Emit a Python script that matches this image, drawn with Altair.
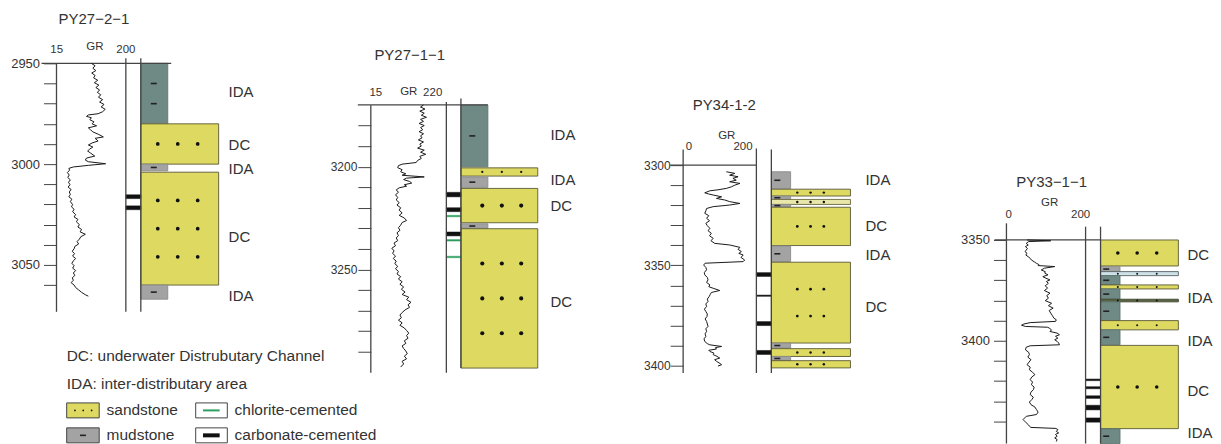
import altair as alt
import pandas as pd

FONT = "Liberation Sans"
TXT = "#333333"
LINE = "#444444"

# ------------------------------------------------------------------ data
well_name = ["PY27−2−1", "PY27−1−1", "PY34-1-2", "PY33−1−1"]
gr_min = [15, 15, 0, 0]
gr_max = [200, 220, 200, 200]
top_depth = [2950, 3170, 3300, 3350]

depth_ticks = [
    [2950, 2960, 2970, 2980, 2990, 3000, 3010, 3020, 3030, 3040, 3050, 3060],
    [3180, 3190, 3200, 3210, 3220, 3230, 3240, 3250, 3260, 3270, 3280, 3290],
    [3300, 3310, 3320, 3330, 3340, 3350, 3360, 3370, 3380, 3390, 3400],
    [3350, 3360, 3370, 3380, 3390, 3400, 3410, 3420, 3430, 3440],
]

# lithology intervals (m)
lith_top = [
    [2950, 2980, 3000, 3004, 3060],
    [3170, 3200.6, 3205, 3210.6, 3227.8, 3230.2],
    [3303.3, 3312, 3315.4, 3317.1, 3319.6, 3321, 3340.3, 3348.4, 3388.7, 3391.5, 3395.4, 3397.5],
    [3350, 3363.2, 3365.7, 3367.7, 3372.3, 3374.3, 3379.4, 3380.7, 3390, 3394.6, 3402.3, 3443.7],
]
lith_base = [
    [2980, 3000, 3003.3, 3060, 3067],
    [3200.1, 3204.6, 3210.1, 3227.3, 3230, 3298],
    [3311.8, 3315.4, 3317.1, 3319.6, 3320.7, 3340.1, 3348.1, 3388.7, 3391.2, 3395.4, 3397.4, 3401.1],
    [3362.9, 3365.7, 3367.7, 3372.3, 3374.3, 3379.4, 3380.7, 3390, 3394.6, 3402, 3443.6, 3451],
]
lith_type = [
    ["mud_dark", "sand", "mud", "sand", "mud"],
    ["mud_dark", "sand", "mud", "sand", "mud", "sand"],
    ["mud", "sand", "mud", "sand_pale", "mud", "sand", "mud", "sand", "mud", "sand", "mud", "sand"],
    ["sand", "mud", "sand_blue", "mud_dark", "sand", "mud_dark", "sand_olive", "mud_dark",
     "sand", "mud_dark", "sand", "mud_dark"],
]
# symbol rows drawn in each interval (dot rows in sandstone, dashes in mudstone)
lith_rows = [
    [2, 1, 1, 3, 1],
    [1, 1, 1, 1, 1, 3],
    [1, 1, 1, 1, 1, 1, 1, 2, 1, 1, 1, 1],
    [1, 1, 1, 1, 1, 1, 1, 1, 1, 1, 1, 1],
]

# cemented layers (m)
cem_top = [
    [3015.2, 3020.7],
    [3212.5, 3220.0, 3223.7, 3231.8, 3235.5, 3243.6],
    [3353.6, 3364.8, 3378.0, 3392.4],
    [3419.0, 3422.8, 3427.3, 3432.0, 3438.3],
]
cem_base = [
    [3017.1, 3022.6],
    [3214.7, 3221.9, 3224.4, 3233.7, 3236.2, 3244.3],
    [3355.5, 3365.4, 3380.0, 3394.4],
    [3419.8, 3423.8, 3428.6, 3434.3, 3440.4],
]
cem_type = [
    ["carbonate", "carbonate"],
    ["carbonate", "carbonate", "chlorite", "carbonate", "chlorite", "chlorite"],
    ["carbonate", "carbonate", "carbonate", "carbonate"],
    ["carbonate", "carbonate", "carbonate", "carbonate", "carbonate"],
]

# sedimentary facies labels
facies_label = [
    ["IDA", "DC", "IDA", "DC", "IDA"],
    ["IDA", "IDA", "DC", "DC"],
    ["IDA", "DC", "IDA", "DC"],
    ["DC", "IDA", "IDA", "DC", "IDA"],
]
facies_depth = [
    [2964.4, 2990.6, 3002.5, 3036.1, 3065.3],
    [3184.7, 3206.6, 3219.2, 3265.8],
    [3307.5, 3330.3, 3344.8, 3370.5],
    [3357.4, 3378.9, 3400.3, 3425.1, 3445.8],
]

# GR logs (depth m, GR API)
gr_log_1 = [
    (2950.0, 108), (2951.2, 118), (2952.4, 112), (2953.6, 120), (2954.8, 109), (2956.0, 118),
    (2957.2, 114), (2958.4, 125), (2959.6, 116), (2960.8, 128), (2962.0, 120), (2963.2, 130),
    (2964.4, 124), (2965.6, 133), (2966.8, 127), (2968.0, 138), (2969.2, 130), (2970.4, 142),
    (2971.6, 134), (2972.8, 145), (2974.0, 138), (2975.0, 126), (2975.6, 100), (2976.3, 95),
    (2977.0, 108), (2978.0, 104), (2979.0, 115), (2980.0, 110), (2981.0, 122), (2982.0, 100),
    (2983.0, 106), (2984.0, 112), (2985.3, 128), (2986.5, 140), (2987.2, 118), (2988.5, 126),
    (2989.5, 110), (2990.5, 100), (2991.5, 112), (2992.5, 104), (2993.5, 98), (2994.5, 106),
    (2996.0, 117), (2997.0, 95), (2998.0, 92), (2998.8, 100), (2999.8, 146), (3000.6, 100),
    (3001.4, 60), (3002.1, 48), (3003.0, 50), (3004.2, 44), (3005.4, 49), (3006.6, 45),
    (3007.8, 52), (3009.0, 47), (3010.2, 51), (3011.4, 46), (3012.6, 54), (3013.8, 49),
    (3015.0, 52), (3016.2, 48), (3017.4, 56), (3018.6, 52), (3020.0, 58), (3021.2, 55),
    (3022.4, 62), (3023.6, 58), (3025.0, 66), (3026.2, 62), (3027.4, 72), (3028.6, 68),
    (3030.0, 76), (3031.2, 72), (3032.4, 82), (3033.6, 78), (3034.8, 92), (3036.0, 80),
    (3037.2, 76), (3038.4, 70), (3039.6, 74), (3040.8, 64), (3042.0, 62), (3043.2, 57),
    (3044.4, 63), (3045.6, 58), (3046.8, 66), (3048.0, 60), (3049.2, 56), (3050.4, 62),
    (3051.6, 58), (3052.8, 66), (3054.0, 60), (3055.2, 64), (3056.4, 57), (3057.6, 60),
    (3058.8, 54), (3060.0, 62), (3061.2, 66), (3062.4, 74), (3063.6, 82), (3064.8, 92),
    (3065.5, 100),
]
gr_log_2 = [
    (3170.0, 158), (3171.0, 150), (3172.0, 162), (3173.0, 148), (3174.0, 160), (3175.0, 152),
    (3176.0, 166), (3177.0, 150), (3178.0, 158), (3179.0, 146), (3180.0, 160), (3181.0, 150),
    (3182.0, 156), (3183.0, 146), (3184.0, 158), (3185.0, 150), (3186.0, 154), (3187.0, 144),
    (3188.0, 158), (3189.0, 148), (3190.0, 152), (3191.0, 142), (3192.0, 160), (3193.0, 150),
    (3194.0, 164), (3195.0, 148), (3196.0, 152), (3197.0, 142), (3198.0, 138), (3198.8, 100),
    (3199.5, 90), (3200.5, 88), (3201.5, 100), (3202.5, 96), (3203.5, 110), (3204.2, 100),
    (3205.0, 160), (3205.6, 112), (3206.3, 104), (3207.2, 120), (3208.0, 126), (3208.8, 106),
    (3209.5, 112), (3210.3, 92), (3211.3, 84), (3212.5, 90), (3213.7, 82), (3215.0, 88),
    (3216.2, 84), (3217.5, 92), (3218.7, 86), (3220.0, 96), (3221.2, 92), (3222.5, 100),
    (3223.7, 92), (3225.0, 106), (3226.2, 112), (3227.2, 100), (3228.5, 96), (3229.7, 90),
    (3231.0, 94), (3232.2, 86), (3233.5, 90), (3234.7, 84), (3236.0, 88), (3237.2, 78),
    (3238.5, 82), (3239.7, 72), (3241.0, 78), (3242.2, 74), (3243.5, 82), (3244.7, 76),
    (3246.0, 84), (3247.2, 80), (3248.5, 88), (3249.7, 82), (3251.0, 90), (3252.2, 86),
    (3253.5, 96), (3254.7, 90), (3256.0, 100), (3257.2, 94), (3258.5, 104), (3259.7, 98),
    (3261.0, 108), (3262.2, 100), (3263.5, 118), (3264.7, 112), (3266.0, 124), (3267.2, 116),
    (3268.5, 120), (3269.7, 108), (3271.0, 100), (3272.2, 94), (3273.5, 98), (3274.7, 90),
    (3276.0, 100), (3277.2, 94), (3278.5, 106), (3279.7, 112), (3281.0, 118), (3282.2, 112),
    (3283.5, 116), (3284.7, 106), (3286.0, 110), (3287.2, 100), (3288.5, 104), (3289.7, 110),
    (3291.0, 114), (3292.2, 106), (3293.5, 112), (3294.7, 100), (3296.0, 104), (3297.5, 96),
]
gr_log_3 = [
    (3303.3, 118), (3304.1, 141), (3305.0, 127), (3305.8, 150), (3306.6, 136), (3307.5, 145),
    (3308.3, 127), (3309.1, 155), (3310.0, 141), (3310.8, 132), (3311.6, 118), (3312.3, 95),
    (3312.8, 73), (3313.8, 59), (3314.4, 70), (3314.9, 82), (3315.8, 105), (3316.6, 91),
    (3317.4, 114), (3318.2, 127), (3319.1, 155), (3319.9, 127), (3320.7, 82), (3321.6, 64),
    (3322.8, 62), (3324.0, 59), (3325.2, 70), (3326.5, 64), (3327.7, 72), (3329.0, 62),
    (3330.2, 66), (3331.5, 73), (3332.7, 68), (3334.0, 77), (3335.2, 72), (3336.5, 82),
    (3337.7, 76), (3339.0, 86), (3339.8, 127), (3341.0, 155), (3342.0, 150), (3343.1, 159),
    (3344.0, 152), (3344.8, 164), (3346.0, 158), (3347.3, 168), (3348.1, 164), (3348.9, 60),
    (3349.8, 56), (3351.0, 62), (3352.2, 64), (3353.5, 58), (3354.7, 59), (3356.0, 66),
    (3357.2, 68), (3358.5, 64), (3359.7, 73), (3360.6, 70), (3361.4, 82), (3362.5, 100),
    (3363.5, 77), (3364.5, 74), (3365.5, 71), (3366.8, 66), (3368.0, 68), (3369.2, 62),
    (3370.5, 64), (3371.8, 58), (3373.0, 62), (3374.2, 66), (3375.5, 65), (3376.7, 60),
    (3377.9, 64), (3379.2, 66), (3380.4, 68), (3381.6, 62), (3382.9, 64), (3384.1, 60),
    (3385.4, 62), (3386.6, 57), (3387.9, 59), (3389.0, 66), (3389.6, 73), (3390.4, 105),
    (3391.0, 88), (3391.7, 91), (3392.3, 70), (3392.9, 73), (3393.7, 84), (3394.5, 82),
    (3395.3, 92), (3396.2, 100), (3397.0, 86), (3397.8, 91), (3398.6, 98), (3399.5, 105),
    (3400.2, 95),
]
gr_log_4 = [
    (3350.0, 52), (3350.4, 112), (3350.8, 56), (3351.7, 50), (3352.5, 55), (3353.3, 48),
    (3354.2, 53), (3355.0, 50), (3355.8, 47), (3356.6, 52), (3357.5, 49), (3358.3, 55),
    (3359.1, 60), (3359.9, 63), (3360.8, 70), (3361.6, 76), (3362.2, 82), (3362.7, 80),
    (3363.2, 122), (3364.0, 96), (3364.9, 88), (3365.7, 98), (3366.5, 97), (3367.3, 105),
    (3368.2, 92), (3369.0, 100), (3369.8, 110), (3370.6, 101), (3371.5, 106), (3372.7, 98),
    (3373.9, 104), (3375.1, 96), (3376.4, 110), (3377.6, 102), (3378.9, 106), (3380.1, 98),
    (3381.4, 114), (3382.6, 106), (3383.8, 118), (3385.0, 108), (3386.3, 112), (3387.5, 116),
    (3388.8, 120), (3389.6, 126), (3390.4, 124), (3391.0, 60), (3391.7, 44), (3392.3, 38),
    (3392.9, 48), (3393.3, 104), (3393.7, 108), (3394.6, 114), (3395.4, 110), (3396.2, 128),
    (3397.0, 134), (3397.8, 124), (3398.7, 130), (3399.5, 122), (3400.3, 128), (3401.1, 132),
    (3402.0, 134), (3402.5, 60), (3403.2, 50), (3404.5, 48), (3405.7, 56), (3406.9, 58),
    (3408.1, 54), (3409.4, 62), (3410.6, 57), (3411.9, 52), (3413.1, 60), (3414.4, 58),
    (3415.6, 66), (3416.8, 72), (3418.0, 64), (3419.3, 60), (3420.5, 66), (3421.8, 63),
    (3423.0, 70), (3424.3, 68), (3425.5, 62), (3426.7, 60), (3428.0, 68), (3429.2, 64),
    (3430.4, 58), (3431.7, 62), (3432.9, 72), (3434.2, 76), (3435.4, 80), (3436.6, 76),
    (3437.5, 50), (3438.3, 46), (3439.1, 42), (3439.9, 46), (3440.7, 50), (3441.6, 55),
    (3442.4, 58), (3443.0, 62), (3443.5, 125), (3444.1, 130), (3445.0, 126), (3445.7, 132),
    (3446.5, 124), (3447.4, 128), (3448.2, 122), (3449.0, 128), (3450.0, 126),
]
gr_logs = [gr_log_1, gr_log_2, gr_log_3, gr_log_4]

legend_lines = ["DC: underwater Distrubutary Channel", "IDA: inter-distributary area"]
legend_items = ["sandstone", "mudstone", "chlorite-cemented", "carbonate-cemented"]

# ------------------------------------------------------------------ style / layout
FILL = {"sand": "#ddd961", "sand_pale": "#e8e6a8", "sand_blue": "#cfe2e7", "sand_olive": "#596340",
        "mud": "#a3a3a3", "mud_dark": "#6f8985"}
STROKE = {"sand": "#5a5836", "sand_pale": "#6a6840", "sand_blue": "#56605f", "sand_olive": "#3f4630",
          "mud": "#8c8c8c", "mud_dark": "#5d7571"}
CEM = {"carbonate": "#111111", "chlorite": "#2e9e5e"}

PLOT_TOP = 8      # page y of the plot tops
H = 436           # plot height of every panel
FS_LABEL = 15
FS_LEGEND = 15.5
FS_TITLE = 15
FS_GR = 11.5

LAYOUT = [
    dict(width=314.5, k=2.02, ref_depth=2950, ref_y=63, gr_w=69.5, litho_x=84.5, mud_x=111.5,
         sand_x=162.5, label_x=172.5, dot_x=[17, 37, 57], dash_x=13, dot_big=14, dot_small=4,
         title=(37.5, 19), gr_lab=[(0.2, 50), (38.5, 46.7), (69.5, 50)], top_line=(-15, 115),
         vlines=[(0, 63, 312), (69.5, 58, 312), (84.5, 58, 312)], lab_size=13, lab_pad=4),
    dict(width=312.3, k=2.06, ref_depth=3200, ref_y=166.5, gr_w=75.7, litho_x=90.3, mud_x=117.3,
         sand_x=167.3, label_x=180, dot_x=[21.4, 41, 60.4], dash_x=11.4, dot_big=17, dot_small=5,
         title=(39, 55), gr_lab=[(5, 93), (38, 91.7), (62, 93)], top_line=(-13, 117.3),
         vlines=[(0, 105, 373), (75.7, 101.7, 373), (90.3, 98.3, 368.3)], lab_size=12, lab_pad=1),
    dict(width=323.4, k=2.01, ref_depth=3300, ref_y=165, gr_w=73.4, litho_x=88.4, mud_x=107.7,
         sand_x=167.7, label_x=182.7, dot_x=[26, 39.3, 52.6], dash_x=6, dot_big=8, dot_small=6,
         title=(41.2, 105), gr_lab=[(5.7, 146.7), (43.7, 136), (60, 146.7)], top_line=(-13, 73.4),
         vlines=[(0, 149.3, 373.3), (73.4, 148.3, 373.3), (88.4, 149.3, 373.3)], lab_size=12, lab_pad=0),
    dict(width=206.3, k=2.02, ref_depth=3350, ref_y=240, gr_w=79.3, litho_x=94.3, mud_x=113.8,
         sand_x=172.3, label_x=181.5, dot_x=[17.3, 36.7, 56.3], dash_x=5.7, dot_big=13, dot_small=4,
         title=(45.3, 182), gr_lab=[(2.3, 215), (43.3, 203.3), (74.3, 215)], top_line=(-12, 94.3),
         vlines=[(0, 223.3, 444), (79.3, 226.7, 444), (94.3, 226.7, 444)], lab_size=13, lab_pad=4),
]
# legend placement (page px, drawn in first panel)
LEG_X0 = 56.5
LEG_TEXT = [(66.7, 356.7), (66.7, 384)]
LEG_ITEM_TEXT = [(106.7, 410.7), (106.7, 435), (235, 410.7), (235, 435)]
LEG_BOX = [(66.7, 99.3, 403.3, 418.3), (66.7, 99.3, 428.3, 443.3),
           (196, 227.7, 403.3, 418.3), (196, 227.7, 428.3, 443.3)]


def build_panel(i):
    L = LAYOUT[i]
    k = L["k"]

    def dep(y):
        return L["ref_depth"] + (y - L["ref_y"]) / k

    d0, d1 = dep(PLOT_TOP), dep(PLOT_TOP + H)
    ysc = alt.Scale(domain=[d0, d1], reverse=True, zero=False, nice=False)
    yax = alt.Axis(values=depth_ticks[i], format="d",
                   labelExpr="datum.value % 50 === 0 ? datum.label : ''",
                   tickSize=13, tickColor=LINE, tickWidth=1, domain=False, grid=False,
                   title=None, labelFont=FONT, labelFontSize=L["lab_size"], labelColor=TXT,
                   labelPadding=L["lab_pad"], labelOverlap=False, labelBound=False)
    xsc = alt.Scale(domain=[0, L["width"]], zero=False, nice=False)

    def X(f):
        return alt.X(f"{f}:Q", scale=xsc, axis=None)

    def Y(f):
        return alt.Y(f"{f}:Q", scale=ysc, axis=yax)

    rects, segs, dots, ltxt, ctxt = [], [], [], [], []

    for t, b, ty, n in zip(lith_top[i], lith_base[i], lith_type[i], lith_rows[i]):
        sand = ty.startswith("sand")
        rects.append(dict(x0=L["litho_x"], x1=L["sand_x"] if sand else L["mud_x"],
                          top=t, base=b, fill=FILL[ty], stroke=STROKE[ty], w=0.9))
        for j in range(n):
            yy = t + (j + 1) * (b - t) / (n + 1)
            if sand:
                s = L["dot_small"] if b - t < 6 else L["dot_big"]
                for dx in L["dot_x"]:
                    dots.append(dict(x=L["litho_x"] + dx, y=yy, s=s))
            else:
                cx = L["litho_x"] + L["dash_x"]
                segs.append(dict(xa=cx - 3, xb=cx + 3, ya=yy, yb=yy, w=1.6, c="#222222"))

    for t, b, ty in zip(cem_top[i], cem_base[i], cem_type[i]):
        rects.append(dict(x0=L["gr_w"], x1=L["litho_x"], top=t, base=b,
                          fill=CEM[ty], stroke=CEM[ty], w=0.5))

    for x, ya, yb in L["vlines"]:
        segs.append(dict(xa=x, xb=x, ya=dep(ya), yb=dep(yb), w=1.3, c=LINE))
    segs.append(dict(xa=L["top_line"][0], xb=L["top_line"][1], ya=top_depth[i],
                     yb=top_depth[i], w=1.3, c=LINE))

    for lab, d in zip(facies_label[i], facies_depth[i]):
        ltxt.append(dict(x=L["label_x"], y=d, t=lab, fs=FS_LABEL))

    ctxt.append(dict(x=L["title"][0], y=dep(L["title"][1]), t=well_name[i], fs=FS_TITLE))
    for (gx, gy), lab in zip(L["gr_lab"], [str(gr_min[i]), "GR", str(gr_max[i])]):
        ctxt.append(dict(x=gx, y=dep(gy), t=lab, fs=FS_GR))

    if i == 0:
        for (tx, ty), lab in zip(LEG_TEXT, legend_lines):
            ltxt.append(dict(x=tx - LEG_X0, y=dep(ty), t=lab, fs=FS_LEGEND))
        for (tx, ty), lab in zip(LEG_ITEM_TEXT, legend_items):
            ltxt.append(dict(x=tx - LEG_X0, y=dep(ty), t=lab, fs=FS_LEGEND))
        box_fill = [FILL["sand"], FILL["mud"], "#ffffff", "#ffffff"]
        for (xa, xb, ya, yb), f in zip(LEG_BOX, box_fill):
            rects.append(dict(x0=xa - LEG_X0, x1=xb - LEG_X0, top=dep(ya), base=dep(yb),
                              fill=f, stroke="#444444", w=1))
        sx = LEG_BOX[0]
        sy = dep((sx[2] + sx[3]) / 2)
        for dx in (8.3, 16.6, 25):
            dots.append(dict(x=sx[0] - LEG_X0 + dx, y=sy, s=3))
        mx = LEG_BOX[1]
        my = dep((mx[2] + mx[3]) / 2)
        cxm = (mx[0] + mx[1]) / 2 - LEG_X0
        segs.append(dict(xa=cxm - 3, xb=cxm + 3, ya=my, yb=my, w=1.6, c="#222222"))
        for bx, col, wd in ((LEG_BOX[2], CEM["chlorite"], 2), (LEG_BOX[3], CEM["carbonate"], 4)):
            by = dep((bx[2] + bx[3]) / 2)
            segs.append(dict(xa=bx[0] - LEG_X0 + 7.3, xb=bx[1] - LEG_X0 - 7.7, ya=by, yb=by,
                             w=wd, c=col))

    gr_df = pd.DataFrame(gr_logs[i], columns=["depth", "gr"])
    gr_df["n"] = range(len(gr_df))

    rect_layer = alt.Chart(pd.DataFrame(rects)).mark_rect().encode(
        x=X("x0"), x2="x1", y=Y("top"), y2="base",
        fill=alt.Fill("fill:N", scale=None), stroke=alt.Stroke("stroke:N", scale=None),
        strokeWidth=alt.StrokeWidth("w:Q", scale=None))
    seg_layer = alt.Chart(pd.DataFrame(segs)).mark_rule().encode(
        x=X("xa"), x2="xb", y=Y("ya"), y2="yb",
        color=alt.Color("c:N", scale=None), strokeWidth=alt.StrokeWidth("w:Q", scale=None))
    dot_layer = alt.Chart(pd.DataFrame(dots)).mark_circle(color="#111111", opacity=1).encode(
        x=X("x"), y=Y("y"), size=alt.Size("s:Q", scale=None))
    gr_layer = alt.Chart(gr_df).mark_line(color="#1a1a1a", strokeWidth=1).encode(
        x=alt.X("gr:Q", scale=alt.Scale(domain=[gr_min[i], gr_max[i]], range=[0, L["gr_w"]],
                                          zero=False, nice=False), axis=None),
        y=Y("depth"), order=alt.Order("n:Q"))
    ltxt_layer = alt.Chart(pd.DataFrame(ltxt)).mark_text(
        align="left", baseline="middle", font=FONT, color=TXT).encode(
        x=X("x"), y=Y("y"), text="t:N", size=alt.Size("fs:Q", scale=None))
    ctxt_layer = alt.Chart(pd.DataFrame(ctxt)).mark_text(
        align="center", baseline="middle", font=FONT, color=TXT).encode(
        x=X("x"), y=Y("y"), text="t:N", size=alt.Size("fs:Q", scale=None))

    return alt.layer(rect_layer, seg_layer, dot_layer, gr_layer, ltxt_layer, ctxt_layer
                     ).resolve_scale(x="independent").properties(width=L["width"], height=H)


chart = alt.hconcat(*[build_panel(i) for i in range(4)], spacing=0, bounds="flush").properties(
    padding={"left": 2.6, "top": 0, "right": 0, "bottom": 0}
).configure(font=FONT).configure_view(stroke=None)

chart.save("out.html", embed_options={"renderer": "svg", "actions": False})
